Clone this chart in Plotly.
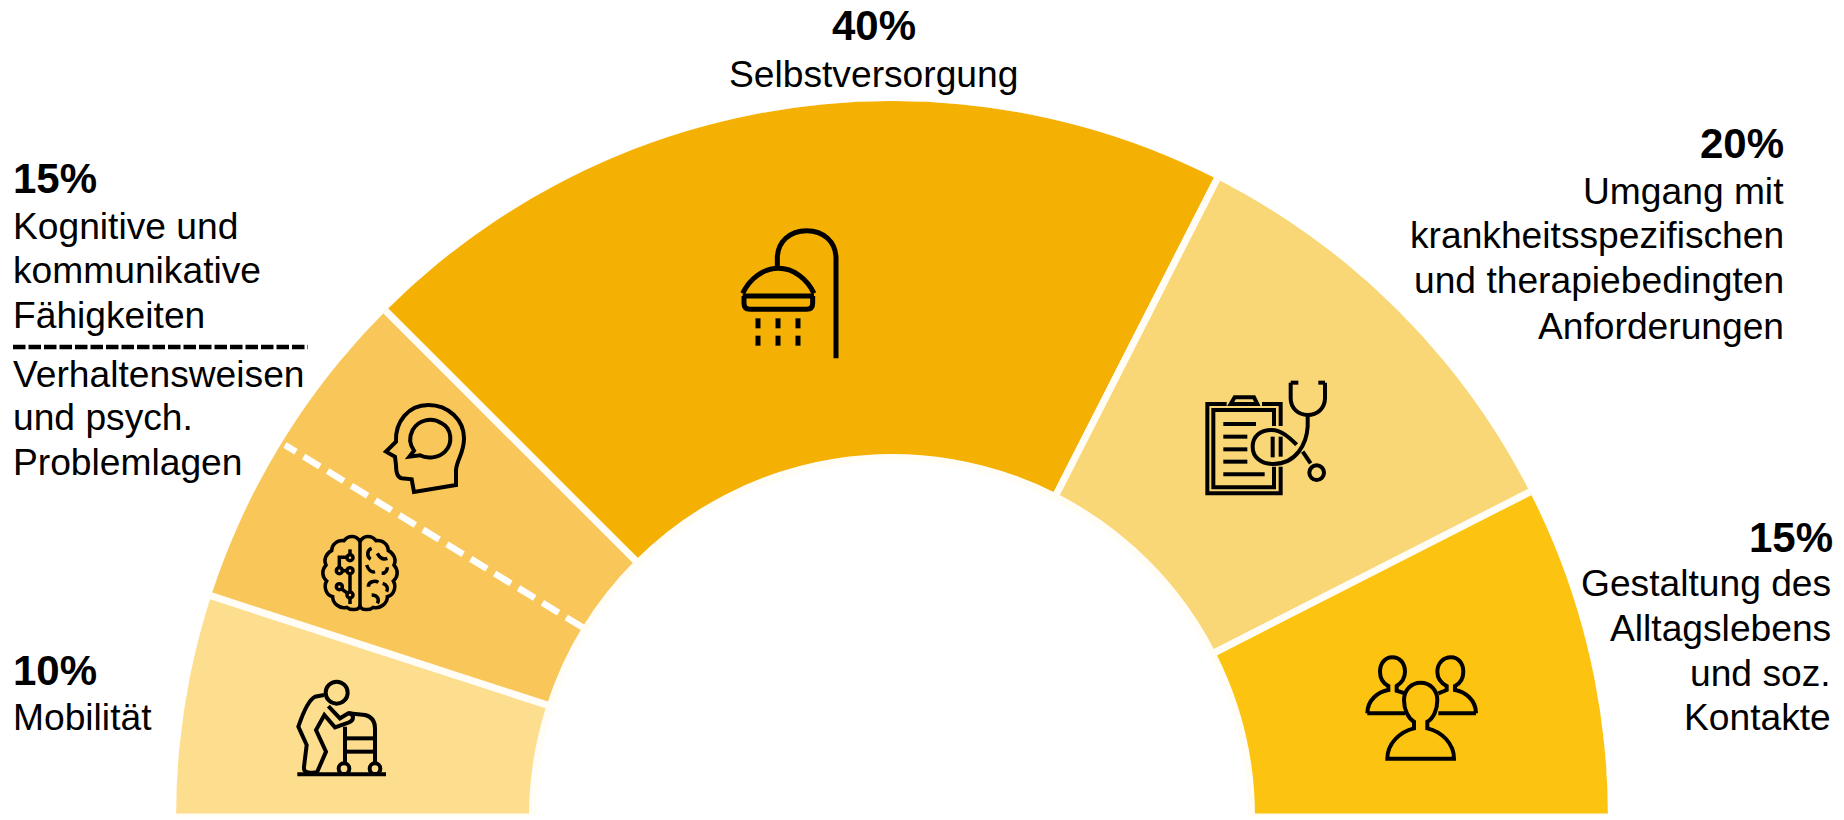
import re
import plotly.graph_objects as go

W, H = 1844, 820

# ---- data ----
categories = ["Mobilität", "Kognitive und kommunikative Fähigkeiten / Verhaltensweisen und psych. Problemlagen",
              "Selbstversorgung", "Umgang mit krankheitsspezifischen und therapiebedingten Anforderungen",
              "Gestaltung des Alltagslebens und soz. Kontakte"]
shares = [10, 15, 40, 20, 15]
colors = ["#FDDE8E", "#F9C659", "#F5B103", "#F9D777", "#FDC311"]
split_at = 17.5  # share position of the dashed split inside the 15 % slice

# ---- geometry of the fan ----
CX, BOTTOM, R_OUT, R_IN = 892, 817, 716, 363
GAP = 7

deg_per_share = 180 / sum(shares)
theta, width = [], []
cum = 0
for s in shares:
    theta.append(180 - deg_per_share * (cum + s / 2))
    width.append(deg_per_share * s)
    cum += s

fig = go.Figure()
fig.add_trace(go.Barpolar(
    theta=theta, width=width,
    r=[R_OUT - R_IN + GAP] * len(shares), base=[R_IN - GAP / 2] * len(shares),
    marker=dict(color=colors, line=dict(color="#FFFDF6", width=GAP)),
    hoverinfo="skip", showlegend=False,
))
split_theta = 180 - deg_per_share * split_at
fig.add_trace(go.Scatterpolar(
    theta=[split_theta, split_theta], r=[R_IN, R_OUT - 4], mode="lines",
    line=dict(color="white", width=6.5, dash="19px,9px"),
    hoverinfo="skip", showlegend=False,
))

# ---- text lines: (text, x, y, anchor, bold) in pixels ----
BOLD, REG = 42, 37.2
S = 1844 / 1568
labels = [
    ("15%", 9.5, 152, "left", True), ("Kognitive und", 9.5, 192, "left", False),
    ("kommunikative", 9.5, 230, "left", False), ("Fähigkeiten", 9.5, 268, "left", False),
    ("Verhaltensweisen", 9.5, 318, "left", False), ("und psych.", 9.5, 355, "left", False),
    ("Problemlagen", 9.5, 393, "left", False),
    ("10%", 9.5, 570, "left", True), ("Mobilität", 9.5, 610, "left", False),
    ("40%", 743, 22, "center", True), ("Selbstversorgung", 743, 63, "center", False),
    ("20%", 1519, 122, "right", True), ("Umgang mit", 1519, 162, "right", False),
    ("krankheitsspezifischen", 1519, 200, "right", False),
    ("und therapiebedingten", 1519, 238, "right", False),
    ("Anforderungen", 1519, 277, "right", False),
    ("15%", 1560, 457, "right", True), ("Gestaltung des", 1559, 496, "right", False),
    ("Alltagslebens", 1559, 534, "right", False), ("und soz.", 1559, 572, "right", False),
    ("Kontakte", 1559, 610, "right", False),
]
annotations = []
for txt, x, y, anc, bold in labels:
    annotations.append(dict(
        text=f"<b>{txt}</b>" if bold else txt, x=x * S / W, y=1 - y * S / H,
        xref="paper", yref="paper", xanchor=anc, yanchor="middle", showarrow=False,
        font=dict(family="Liberation Sans, Arial", size=BOLD if bold else REG, color="#000000"),
    ))

# ---- icons, drawn as line paths from a local origin (3x zoomed pixels) ----
def to_paper(path, ox, oy):
    toks = re.findall(r"[MLCQZ]|-?\d+\.?\d*", path)
    out, is_x = [], True
    for t in toks:
        if t in "MLCQZ":
            out.append(t)
            is_x = True
        else:
            v = float(t)
            if is_x:
                out.append(f"{(ox + v / 3) / W:.5f}")
            else:
                out.append(f"{1 - (oy + v / 3) / H:.5f}")
            is_x = not is_x
    return " ".join(out)

shapes = [dict(type="line", xref="paper", yref="paper", x0=13 / W, x1=308 / W,
               y0=1 - 347 / H, y1=1 - 347 / H,
               line=dict(color="black", width=4.5, dash="12.5px,3px"), layer="above")]
def stroke(paths, ox, oy, w=4):
    for p in paths:
        shapes.append(dict(type="path", path=to_paper(p, ox, oy), xref="paper", yref="paper",
                           line=dict(color="black", width=w), fillcolor="rgba(0,0,0,0)", layer="above"))
def circle(cx, cy, r, ox, oy, w=4):
    shapes.append(dict(type="circle", xref="paper", yref="paper",
                       x0=(ox + (cx - r) / 3) / W, x1=(ox + (cx + r) / 3) / W,
                       y0=1 - (oy + (cy + r) / 3) / H, y1=1 - (oy + (cy - r) / 3) / H,
                       line=dict(color="black", width=w), layer="above"))

# shower
stroke([
    "M 408 445 L 408 145 C 408 95 370 62 320 62 C 270 62 232 95 232 145 L 232 172",
    "M 128 250 C 150 205 190 175 235 175 C 280 175 320 205 342 250",
    "M 128 258 L 342 258",
    "M 132 258 L 132 280 Q 132 298 150 298 L 320 298 Q 338 298 338 280 L 338 258",
], 700, 210, 5)
for x in (174, 234, 294):
    for y0, y1 in ((325, 355), (377, 407)):
        stroke([f"M {x} {y0} L {x} {y1}"], 700, 210, 5)

# clipboard + stethoscope
stroke([
    "M 110 132 L 52 132 L 52 400 L 272 400 L 272 320",
    "M 216 132 L 272 132 L 272 198",
    "M 122 132 L 134 112 L 192 112 L 202 132 Z",
    "M 252 198 L 252 150 L 70 150 L 70 382 L 252 382 L 252 320",
    "M 100 192 L 198 192", "M 100 230 L 172 230", "M 100 268 L 172 268",
    "M 100 305 L 172 305", "M 100 343 L 224 343",
    "M 302 68 L 302 115 C 302 145 325 165 353 165 C 381 165 405 145 405 115 L 405 68",
    "M 302 68 L 325 68", "M 385 68 L 405 68",
    "M 353 165 L 353 200 C 350 250 320 312 250 312 C 210 312 188 290 188 260 C 188 230 210 210 245 210 C 275 210 300 235 320 254",
    "M 338 275 L 362 310",
    "M 248 230 L 248 292", "M 272 230 L 272 290",
], 1190, 360, 4)
circle(380, 338, 22, 1190, 360, 4)

# people
stroke([
    "M 52 160 C 52 120 85 95 115 90 L 115 78 C 100 70 90 55 90 35 C 90 10 105 -8 127 -8 C 150 -8 165 10 165 35 C 165 55 155 68 140 78 L 140 92 L 165 100",
    "M 52 160 L 165 160",
    "M 378 160 C 378 120 345 95 315 90 L 315 78 C 330 70 340 55 340 35 C 340 10 325 -8 303 -8 C 280 -8 262 10 262 35 C 262 55 272 68 290 78 L 290 90 L 265 100",
    "M 265 160 L 378 160",
    "M 112 296 L 312 296 C 312 250 275 215 232 205 L 232 185 C 250 175 262 150 262 120 C 262 90 240 68 212 68 C 184 68 162 90 162 120 C 162 150 175 175 192 185 L 192 205 C 150 215 112 250 112 296 Z",
], 1350, 660, 4)

# person with walker
stroke([
    "M 132 75 L 105 80 C 85 90 70 125 55 170 L 80 225 L 72 290 C 70 305 80 310 100 308 L 112 305 L 138 245 L 108 180 L 133 135 L 165 172 L 205 158 C 225 150 222 130 205 130 L 180 145 L 145 108",
    "M 205 130 L 255 135 C 275 140 285 155 285 175 L 285 282",
    "M 195 170 L 195 282", "M 195 205 L 285 205", "M 195 245 L 285 245",
    "M 52 313 L 318 313",
], 280, 670, 4)
circle(170, 68, 33, 280, 670, 4)
circle(192, 296, 16, 280, 670, 4)
circle(285, 296, 16, 280, 670, 4)

# brain
stroke([
    "M 180 55 L 180 262",
    "M 180 65 C 170 45 145 45 132 62 C 110 60 95 75 95 92 C 78 100 70 120 78 135 C 65 150 65 170 80 183 C 70 200 78 225 98 230 C 98 250 120 268 140 262 C 152 272 180 272 180 255",
    "M 180 65 C 190 45 215 45 228 62 C 250 60 265 75 265 92 C 282 100 290 120 282 135 C 295 150 295 170 280 183 C 290 200 282 225 262 230 C 262 250 240 268 220 262 C 208 272 180 272 180 255",
    "M 150 88 L 150 104", "M 141 112 L 118 112 L 118 143", "M 127 152 L 141 152",
    "M 150 161 L 150 216 ", "M 150 234 L 150 252", "M 125 207 L 143 220",
    "M 215 85 C 200 90 200 110 212 118", "M 232 100 C 240 115 250 120 262 115",
    "M 200 135 C 205 150 215 158 225 155", "M 245 160 C 258 160 262 150 262 142",
    "M 205 200 C 205 185 225 180 235 187", "M 248 190 C 262 195 265 205 260 215",
    "M 215 225 C 235 225 238 240 232 250",
], 300, 520, 3.5)
for cx, cy in ((150, 113), (118, 152), (150, 152), (150, 225), (118, 200)):
    circle(cx, cy, 9, 300, 520, 3.5)

# head with speech bubble
stroke([
    "M 132 306 L 125 268 L 95 265 C 80 262 78 245 78 225 L 75 200 L 48 185 L 78 155 C 75 95 115 45 175 45 C 235 45 282 90 282 145 C 282 190 260 210 258 240 L 258 285 L 132 306 Z",
    "M 150 196 C 170 207 205 205 225 185 C 250 160 245 115 215 100 C 185 80 145 90 128 120 C 115 145 120 165 132 182 L 118 200 Z",
], 370, 390, 4)

fig.update_layout(
    width=W, height=H, margin=dict(l=0, r=0, t=0, b=0),
    paper_bgcolor="white", plot_bgcolor="white", showlegend=False,
    annotations=annotations, shapes=shapes,
    polar=dict(
        domain=dict(x=[(CX - R_OUT) / W, (CX + R_OUT) / W], y=[1 - BOTTOM / H, 1 - (BOTTOM - R_OUT) / H]),
        sector=[0, 180], bgcolor="rgba(0,0,0,0)",
        radialaxis=dict(range=[0, R_OUT], visible=False),
        angularaxis=dict(visible=False, direction="counterclockwise", rotation=0),
    ),
)
fig.write_html("out.html", config=dict(displayModeBar=False),
               post_script="document.body.style.margin='0';document.body.style.overflow='hidden';")
